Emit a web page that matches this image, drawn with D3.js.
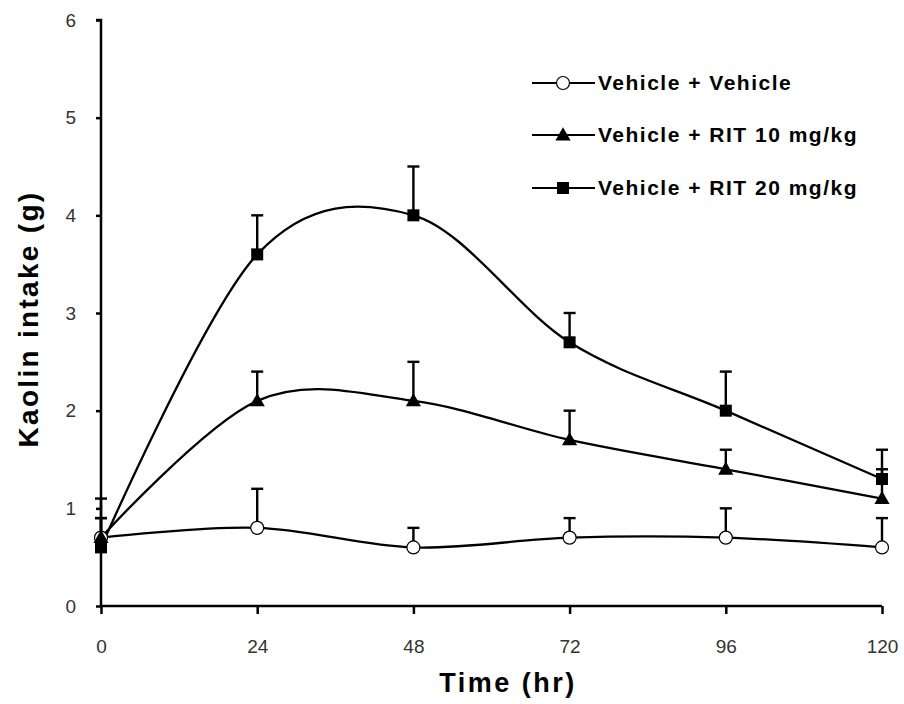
<!DOCTYPE html>
<html><head><meta charset="utf-8">
<script src="https://cdn.jsdelivr.net/npm/d3@7"></script>
<style>body{margin:0;background:#fff}svg{display:block}</style>
</head><body>
<svg id="c" width="904" height="704"></svg>
<script>
const times = [0, 24, 48, 72, 96, 120];
const xTicks = [0, 24, 48, 72, 96, 120];
const yTicks = [0, 1, 2, 3, 4, 5, 6];
const seriesNames = ["Vehicle + Vehicle", "Vehicle + RIT 10 mg/kg", "Vehicle + RIT 20 mg/kg"];
const vehicleMean = [0.7, 0.8, 0.6, 0.7, 0.7, 0.6];
const vehicleErr  = [0.4, 0.4, 0.2, 0.2, 0.3, 0.3];
const rit10Mean   = [0.7, 2.1, 2.1, 1.7, 1.4, 1.1];
const rit10Err    = [0.2, 0.3, 0.4, 0.3, 0.2, 0.3];
const rit20Mean   = [0.6, 3.6, 4.0, 2.7, 2.0, 1.3];
const rit20Err    = [0.3, 0.4, 0.5, 0.3, 0.4, 0.3];
const markerTypes = ["circle", "triangle", "square"];
const xLabel = "Time (hr)";
const yLabel = "Kaolin intake (g)";

const series = [
  {name: seriesNames[0], mean: vehicleMean, err: vehicleErr, marker: markerTypes[0]},
  {name: seriesNames[1], mean: rit10Mean, err: rit10Err, marker: markerTypes[1]},
  {name: seriesNames[2], mean: rit20Mean, err: rit20Err, marker: markerTypes[2]}
];

const svg = d3.select("#c");
const x = d3.scaleLinear().domain([0, 120]).range([101, 882]);
const y = d3.scaleLinear().domain([0, 6]).range([606, 20]);

function marker(g, type, cx, cy) {
  if (type === "circle") {
    g.append("circle").attr("cx", cx).attr("cy", cy).attr("r", 6.5)
      .attr("fill", "#fff").attr("stroke", "#000").attr("stroke-width", 1.2);
  } else if (type === "triangle") {
    g.append("path").attr("d", d3.symbol(d3.symbolTriangle, 100)())
      .attr("transform", `translate(${cx},${cy + 1})`).attr("fill", "#000");
  } else {
    g.append("rect").attr("x", cx - 6).attr("y", cy - 6).attr("width", 12).attr("height", 12)
      .attr("fill", "#000");
  }
}

// error bars (upward only)
const eb = svg.append("g");
series.forEach(s => {
  times.forEach((t, i) => {
    const top = s.mean[i] + s.err[i];
    eb.append("line").attr("x1", x(t)).attr("x2", x(t))
      .attr("y1", y(s.mean[i])).attr("y2", y(top)).attr("stroke", "#000").attr("stroke-width", 2.4);
    eb.append("line").attr("x1", x(t) - 6).attr("x2", x(t) + 6)
      .attr("y1", y(top)).attr("y2", y(top)).attr("stroke", "#000").attr("stroke-width", 2.4);
  });
});

// lines (smoothed, uniform Catmull-Rom like the spreadsheet's smooth line)
const line = d3.line().x((d, i) => x(times[i])).y(d => y(d)).curve(d3.curveCardinal.tension(0));
series.forEach(s => {
  svg.append("path").attr("d", line(s.mean)).attr("fill", "none")
    .attr("stroke", "#000").attr("stroke-width", 2.3);
});

// axes
const xAxis = d3.axisBottom(x).tickValues(xTicks).tickSize(8).tickPadding(26).tickFormat(d3.format("d"));
const gx = svg.append("g").attr("transform", `translate(0,${y(0)})`).call(xAxis);
const yAxis = d3.axisLeft(y).tickValues(yTicks).tickSize(5).tickPadding(20).tickFormat(d3.format("d"));
const gy = svg.append("g").attr("transform", `translate(${x(0)},0)`).call(yAxis);
[gx, gy].forEach(g => {
  g.select(".domain").attr("stroke", "#000").attr("stroke-width", 2.5);
  g.selectAll(".tick line").attr("stroke", "#000").attr("stroke-width", 2.5);
  g.selectAll(".tick text").attr("font-family", "'Liberation Sans Narrow', 'Liberation Sans', Arial, sans-serif")
    .attr("font-size", 19).attr("fill", "#333");
});
gy.select(".domain").attr("d", `M-5,${y(6)}H0V${y(0)}`);
gx.select(".domain").attr("d", `M${x(0)},0H${x(120)}`);

// markers
series.forEach(s => {
  const g = svg.append("g");
  times.forEach((t, i) => marker(g, s.marker, x(t), y(s.mean[i])));
});

// axis titles
svg.append("text").attr("x", 508).attr("y", 692).attr("text-anchor", "middle")
  .attr("font-family", "'Liberation Sans', Arial, sans-serif").attr("font-weight", "bold")
  .attr("font-size", 27).attr("letter-spacing", 2.5).text(xLabel);
svg.append("text").attr("transform", "translate(38,319) rotate(-90)").attr("text-anchor", "middle")
  .attr("font-family", "'Liberation Sans', Arial, sans-serif").attr("font-weight", "bold")
  .attr("font-size", 28).attr("letter-spacing", 2.3).text(yLabel);

// legend
const legY = [83, 135, 188];
series.forEach((s, i) => {
  const g = svg.append("g");
  g.append("line").attr("x1", 532).attr("x2", 595).attr("y1", legY[i]).attr("y2", legY[i])
    .attr("stroke", "#000").attr("stroke-width", 2.2);
  marker(g, s.marker, 563, legY[i]);
  g.append("text").attr("x", 598).attr("y", legY[i]).attr("dy", "0.35em")
    .attr("font-family", "'Liberation Sans', Arial, sans-serif").attr("font-weight", "bold")
    .attr("font-size", 21).attr("letter-spacing", 1.5).text(s.name);
});
</script>
</body></html>
